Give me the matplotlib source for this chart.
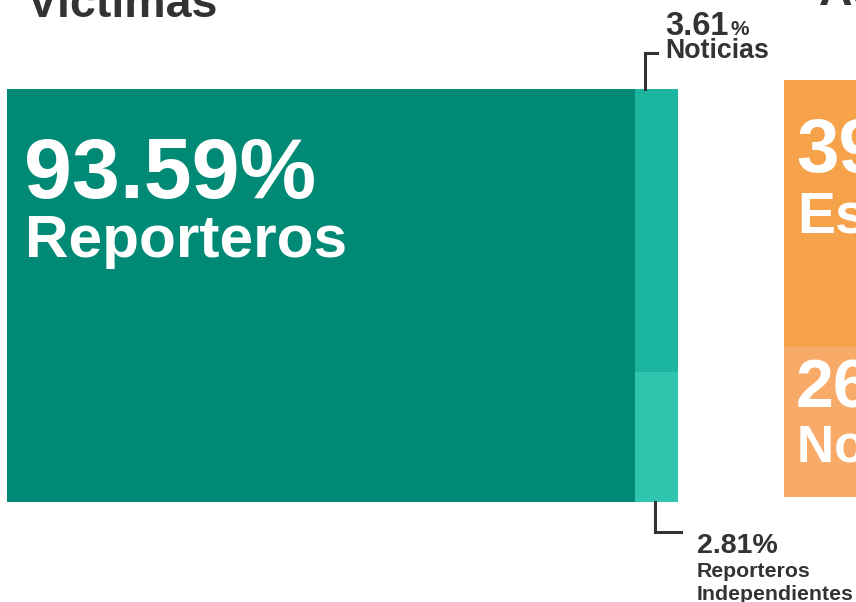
import matplotlib
matplotlib.use("Agg")
import matplotlib.pyplot as plt

# ---- data ----
victim_labels = ["Reporteros", "Noticias", "Reporteros\nIndependientes"]
victim_values = [93.59, 3.61, 2.81]
victim_colors = ["#008975", "#1BB49F", "#2FC5AF"]

aggressor_values = [39.0, 26.0]
aggressor_labels = ["Estado", "No identificado"]
aggressor_colors = ["#F5A24B", "#F8AB68"]

titles = ["Víctimas", "Autores"]

W, H = 856, 602
fig = plt.figure(figsize=(W / 100, H / 100), dpi=100)
plt.rcParams['font.family'] = ['Liberation Sans', 'DejaVu Sans']

def fx(px):
    return px / W

def fy(py):
    return 1 - py / H

DARK = "#333333"

# ---- victims block ----
ax1 = fig.add_axes([fx(7), fy(502), fx(678) - fx(7), (502 - 89) / H])
ax1.set_xlim(0, 100)
ax1.set_ylim(0, 1)
ax1.axis("off")
strip_split = 0.315  # share of strip height taken by the bottom segment (as drawn)
ax1.bar(0, 1, width=victim_values[0], bottom=0, align="edge",
        color=victim_colors[0], linewidth=0)
strip_w = victim_values[1] + victim_values[2]
ax1.bar(victim_values[0], 1 - strip_split, width=strip_w, bottom=strip_split,
        align="edge", color=victim_colors[1], linewidth=0)
ax1.bar(victim_values[0], strip_split, width=strip_w, bottom=0,
        align="edge", color=victim_colors[2], linewidth=0)

# ---- aggressors block ----
ax2 = fig.add_axes([fx(784), fy(497), fx(1400) - fx(784), (497 - 80) / H])
ax2.set_xlim(0, 100)
ax2.set_ylim(0, 1)
ax2.axis("off")
agg_split = 0.36
ax2.bar(0, 1 - agg_split, width=100, bottom=agg_split, align="edge",
        color=aggressor_colors[0], linewidth=0)
ax2.bar(0, agg_split, width=100, bottom=0, align="edge",
        color=aggressor_colors[1], linewidth=0)

# ---- text ----
def T(px, py, s, size, color=DARK, weight="bold", **kw):
    return fig.text(fx(px), fy(py), s, fontsize=size, color=color, fontweight=weight,
                    ha="left", va="baseline", **kw)

T(27, 17, titles[0], 33.5)
T(819, 5, titles[1], 33.5)

T(24, 198, f"{victim_values[0]:.2f}%", 62)
fig.texts[-1].set_color("white")
T(25, 257, victim_labels[0], 43.5, color="white")

T(796, 172, f"{aggressor_values[0]:.0f}%", 55, color="white")
T(797, 232, aggressor_labels[0], 41, color="white")
T(796, 407, f"{aggressor_values[1]:.0f}%", 49, color="white")
T(797, 462, aggressor_labels[1], 37, color="white")

# Noticias label
t361 = T(665, 35, f"{victim_values[1]:.2f}", 23.5)
fig.canvas.draw()
bb = t361.get_window_extent(renderer=fig.canvas.get_renderer())
T(bb.x1 + 2, 35, "%", 15)
T(665, 58, victim_labels[1], 19.3)
fig.add_artist(plt.Line2D([fx(645), fx(645), fx(657)], [fy(89), fy(53), fy(53)],
                          color=DARK, lw=2.2, solid_joinstyle="miter"))

# Reporteros independientes label
T(697, 553, f"{victim_values[2]:.2f}%", 20.5)
lines = victim_labels[2].split("\n")
T(697, 577, lines[0], 15.3)
T(697, 600, lines[1], 15.3)
fig.add_artist(plt.Line2D([fx(655), fx(655), fx(681)], [fy(502), fy(532), fy(532)],
                          color=DARK, lw=2.2, solid_joinstyle="miter"))

fig.savefig("out.png", dpi=100)
